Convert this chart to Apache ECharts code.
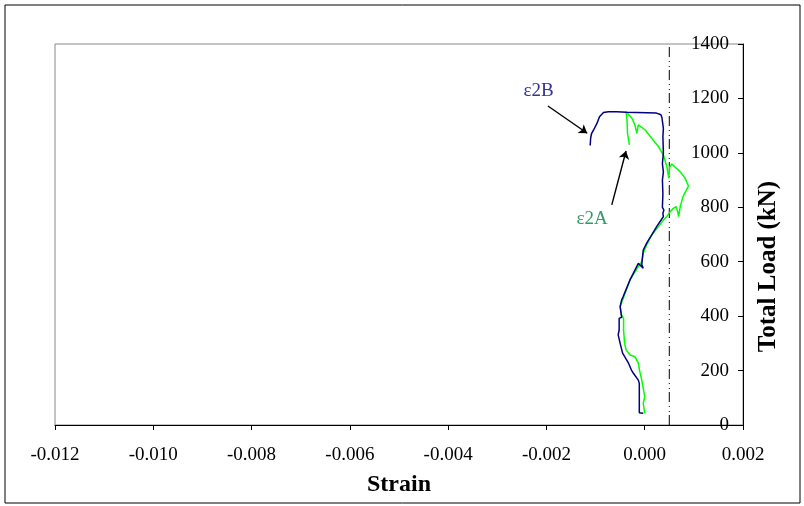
<!DOCTYPE html>
<html>
<head>
<meta charset="utf-8">
<script src="https://cdn.jsdelivr.net/npm/echarts@6/dist/echarts.min.js"></script>
<style>html,body{margin:0;padding:0;background:#fff;}#c{width:804px;height:506px;}</style>
</head>
<body>
<div id="c"></div>
<script>
// Strain (x) vs Total Load kN (y)
var strainB = [-0.00003,-0.00011,-0.00011,-0.00011,-0.00013,-0.00023,-0.00027,-0.00033,-0.00045,-0.0005,-0.00054,-0.00052,-0.00052,-0.00047,-0.0005,-0.00047,-0.00044,-0.00037,-0.0003,-0.00023,-0.00013,-0.0001,-0.00003,0.0,-0.00006,-0.00003,0.00004,0.00014,0.00024,0.00034,0.00038,0.00037,0.00039,0.00036,0.00037,0.00036,0.00038,0.00036,0.00038,0.00037,0.00038,0.00035,0.00033,0.00024,-0.00016,-0.00037,-0.00057,-0.00074,-0.00084,-0.00092,-0.00097,-0.00104,-0.00108,-0.0011,-0.00111];
var loadB   = [43,45,100,153,165,190,202,227,264,300,331,349,392,396,435,459,471,502,533,558,594,598,576,570,590,643,668,698,728,755,766,778,790,800,850,900,930,960,1000,1060,1090,1130,1140,1146,1148,1149,1151,1151,1148,1133,1109,1084,1072,1054,1027];
var strainA = [0.0,-0.00003,0.0,-0.00006,-0.0001,-0.00013,-0.0002,-0.0003,-0.00038,-0.00041,-0.00043,-0.00043,-0.00047,-0.0005,-0.00045,-0.0003,-0.00013,-0.00006,-0.00003,0.00004,0.00014,0.00028,0.00038,0.00045,0.00052,0.00058,0.00064,0.00067,0.00069,0.00072,0.00078,0.00089,0.00082,0.00072,0.00055,0.00051,0.00049,0.00045,0.00038,0.00028,0.00014,0.00001,-0.00013,-0.00016,-0.0002,-0.00026,-0.00038,-0.00036,-0.00035,-0.00031];
var loadA   = [43,80,104,165,196,227,251,257,276,300,349,392,404,435,459,533,582,600,631,662,698,729,753,766,784,796,802,784,766,800,839,878,907,931,959,949,907,949,992,1023,1054,1084,1103,1072,1103,1127,1151,1121,1072,1029];
var refStrain = [0.0005, 0.0005];
var refLoad = [0, 1400];
var labelB = {text:'ε2B', x:-0.00216, y:1227};
var labelA = {text:'ε2A', x:-0.00107, y:756};
var arrowB = [[-0.00197,1172],[-0.00117,1072]];
var arrowA = [[-0.00067,809],[-0.00038,1007]];

function zip(xs, ys){ return xs.map(function(x,i){ return [x, ys[i]]; }); }
var font = 'Liberation Serif';
var chart = echarts.init(document.getElementById('c'));
chart.setOption({
  animation:false,
  backgroundColor:'#fff',
  graphic:[{type:'rect', shape:{x:5,y:5,width:795,height:498}, style:{fill:'none', stroke:'#000', lineWidth:1}, silent:true}],
  grid:{left:55,right:61,top:44,bottom:81,show:true,borderColor:'#888',borderWidth:1,backgroundColor:'#fff'},
  xAxis:{type:'value',min:-0.012,max:0.002,interval:0.002,
    name:'Strain',nameLocation:'middle',nameGap:48,
    nameTextStyle:{fontFamily:font,fontWeight:'bold',fontSize:24,color:'#000'},
    axisLine:{show:true,onZero:false,lineStyle:{color:'#000',width:1}},
    axisTick:{show:true,length:5,lineStyle:{color:'#000'}},
    axisLabel:{margin:21,fontFamily:font,fontSize:19,color:'#000',formatter:function(v){return v.toFixed(3);}},
    splitLine:{show:false}},
  yAxis:{type:'value',position:'right',min:0,max:1400,interval:200,
    name:'Total Load (kN)',nameLocation:'middle',nameGap:13,nameRotate:90,
    nameTextStyle:{fontFamily:font,fontWeight:'bold',fontSize:25,color:'#000',padding:[0,64,0,0]},
    axisLine:{show:true,onZero:false,lineStyle:{color:'#000',width:1}},
    axisTick:{show:true,inside:true,length:5,lineStyle:{color:'#000'}},
    axisLabel:{inside:true,margin:14,fontFamily:font,fontSize:19,color:'#000',formatter:function(v){return String(v);}},
    splitLine:{show:false}},
  series:[
    {type:'line',name:'ref',data:zip(refStrain,refLoad),showSymbol:false,symbol:'none',silent:true,
      lineStyle:{color:'#000',width:1,type:[10,3,1,4,1,4]},z:2},
    {type:'line',name:'ε2A',data:zip(strainA,loadA),showSymbol:false,symbol:'none',
      lineStyle:{color:'#00ff00',width:1.5},itemStyle:{color:'#00ff00'},z:3,
      markPoint:{symbol:'circle',symbolSize:0,silent:true,
        data:[{coord:[labelA.x,labelA.y],value:labelA.text}],
        label:{show:true,formatter:labelA.text,color:'#339966',fontFamily:font,fontSize:19}},
      markLine:{silent:true,symbol:['none','arrow'],symbolSize:8,
        lineStyle:{color:'#000',width:1.4,type:'solid'},label:{show:false},
        data:[[{coord:arrowA[0]},{coord:arrowA[1]}]]}},
    {type:'line',name:'ε2B',data:zip(strainB,loadB),showSymbol:false,symbol:'none',
      lineStyle:{color:'#000080',width:1.5},itemStyle:{color:'#000080'},z:4,
      markPoint:{symbol:'circle',symbolSize:0,silent:true,
        data:[{coord:[labelB.x,labelB.y],value:labelB.text}],
        label:{show:true,formatter:labelB.text,color:'#333399',fontFamily:font,fontSize:19}},
      markLine:{silent:true,symbol:['none','arrow'],symbolSize:8,
        lineStyle:{color:'#000',width:1.4,type:'solid'},label:{show:false},
        data:[[{coord:arrowB[0]},{coord:arrowB[1]}]]}}
  ]
});
</script>
</body>
</html>
